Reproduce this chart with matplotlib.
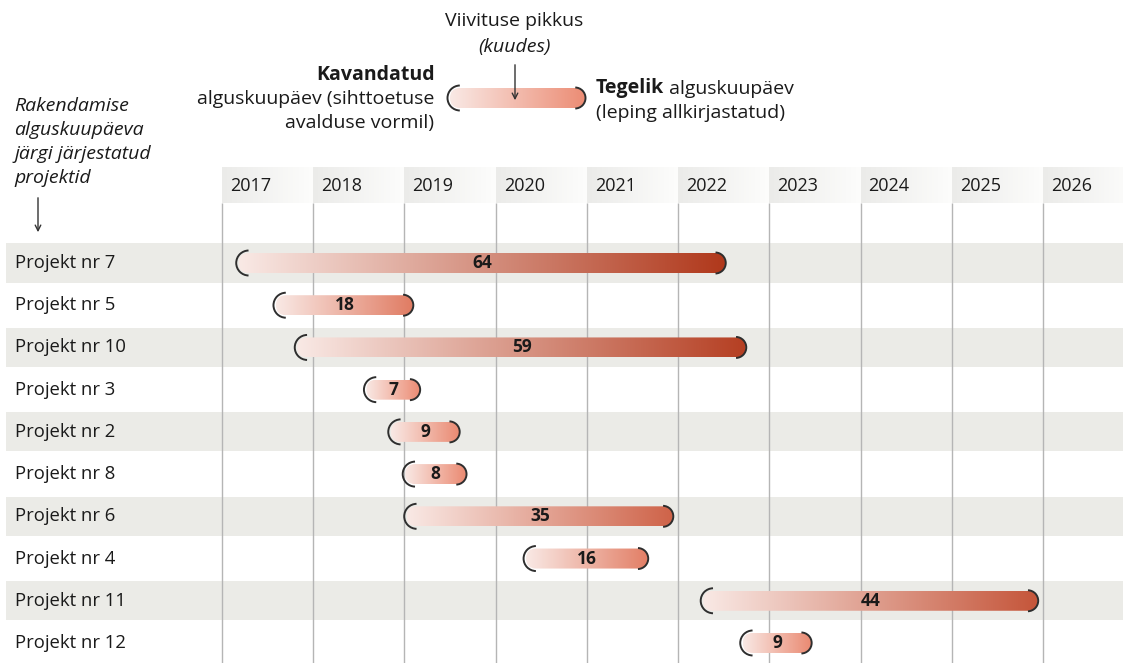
"""Projektide rakendamise viivitus: kavandatud vs tegelik alguskuupäev."""

import matplotlib

matplotlib.use("Agg")
import matplotlib.pyplot as plt
import numpy as np
from matplotlib.colors import to_rgb
from matplotlib.patches import Arc, FancyBboxPatch, Rectangle

# --- data -------------------------------------------------------------------
projects = ["Projekt nr 7", "Projekt nr 5", "Projekt nr 10", "Projekt nr 3",
            "Projekt nr 2", "Projekt nr 8", "Projekt nr 6", "Projekt nr 4",
            "Projekt nr 11", "Projekt nr 12"]
# planned start date, months after January 2017
planned_start = [2.2, 7.1, 9.9, 19.0, 22.2, 24.1, 24.3, 40.0, 63.3, 68.5]
# delay until the contract was signed (months)
delay_months = [64, 18, 59, 7, 9, 8, 35, 16, 44, 9]
years = list(range(2017, 2027))

# --- style ------------------------------------------------------------------
FONT = "Open Sans"
TEXT = "#1a1a1a"
BAND = "#ebebe7"
GRID = "#b5b5b5"
EDGE = "#2e2e2e"
C_START = "#f9e9e5"
C_SHORT = "#ec8c74"
C_LONG = "#b0381b"
HEAD_L, HEAD_R = "#ebebe9", "#fdfdfc"
FS = 13      # years
FS_NOTE = 14  # legend / explanation texts

plt.rcParams["font.family"] = [FONT, "DejaVu Sans"]

# layout: one axes over the whole figure, x in months, y in rows
W, H = 1123, 663
PX_MONTH = 7.602
PX_ROW = 42.22
X0_PX, Y0_PX = 222, 263
R_PX = 10  # half height of a bar


def px_x(px):
    return (px - X0_PX) / PX_MONTH


def px_y(py):
    return (py - Y0_PX) / PX_ROW


def mix(c1, c2, t):
    a, b = np.array(to_rgb(c1)), np.array(to_rgb(c2))
    return a + (b - a) * t


def gradient(ax, x0, x1, y0, y1, c0, c1, clip=None, z=2):
    t = np.linspace(0, 1, 256)
    img = np.array([[mix(c0, c1, v) for v in t]])
    im = ax.imshow(img, extent=(x0, x1, y1, y0), aspect="auto",
                   interpolation="bilinear", zorder=z)
    if clip is not None:
        im.set_clip_path(clip)
    return im


def pill(ax, x0, x1, yc, c_end, z=3):
    rx, ry = R_PX / PX_MONTH, R_PX / PX_ROW
    box = FancyBboxPatch((x0, yc - ry), x1 - x0, 2 * ry,
                         boxstyle=f"round,pad=0,rounding_size={rx * 0.999}",
                         mutation_aspect=ry / rx, fc="none", ec="none", zorder=z)
    ax.add_patch(box)
    gradient(ax, x0, x1, yc - ry, yc + ry, C_START, c_end, clip=box, z=z)
    gap = 2.5
    ax.add_patch(Arc((x0 + rx, yc), 2 * (R_PX + gap) / PX_MONTH, 2 * (R_PX + gap) / PX_ROW,
                     theta1=95, theta2=265, color=EDGE, lw=1.4, zorder=z + 1))
    ax.add_patch(Arc((x1 - rx, yc), 2 * (R_PX + 0.5) / PX_MONTH, 2 * (R_PX + 0.5) / PX_ROW,
                     theta1=-82, theta2=82, color=EDGE, lw=1.4, zorder=z + 1))


fig = plt.figure(figsize=(W / 100, H / 100), dpi=100)
ax = fig.add_axes([0, 0, 1, 1])

# alternating row bands
for i in range(0, len(projects), 2):
    ax.add_patch(Rectangle((px_x(6), i - 0.462), px_x(W) - px_x(6), 0.924,
                           fc=BAND, ec="none", zorder=0))

# year header + grid
for i, yr in enumerate(years):
    gradient(ax, 12 * i, 12 * (i + 1), px_y(167), px_y(203), HEAD_L, HEAD_R, z=1)
    ax.text(12 * i + 8 / PX_MONTH, px_y(186), str(yr), ha="left", va="center",
            fontsize=FS, color=TEXT, zorder=2)
ax.vlines([12 * i for i in range(len(years))], px_y(203), px_y(H),
          color=GRID, lw=1, zorder=1)

# bars
dmin, dmax = min(delay_months), max(delay_months)
for i, (name, s, d) in enumerate(zip(projects, planned_start, delay_months)):
    ax.text(px_x(15), i, name, ha="left", va="center", fontsize=13.3, color=TEXT)
    c_end = mix(C_SHORT, C_LONG, (d - dmin) / (dmax - dmin))
    pill(ax, s, s + d, i, c_end)
    ax.text(s + d / 2, i, str(d), ha="center", va="center", fontsize=12.5,
            fontweight="bold", color=TEXT, zorder=6)

# left explanation
for k, line in enumerate(["Rakendamise", "alguskuupäeva", "järgi järjestatud", "projektid"]):
    ax.text(px_x(14), px_y(106 + 24 * k), line, ha="left", va="center",
            fontsize=FS_NOTE, style="italic", color=TEXT)
ax.annotate("", xy=(px_x(38), px_y(235)), xytext=(px_x(38), px_y(195)),
            arrowprops=dict(arrowstyle="->", color="#333333", lw=1))

# legend
lx0, lx1, ly = px_x(450), px_x(585), px_y(98)
pill(ax, lx0, lx1, ly, C_SHORT)
ax.annotate("", xy=(px_x(515), px_y(103)), xytext=(px_x(515), px_y(62)),
            arrowprops=dict(arrowstyle="->", color="#333333", lw=1), zorder=8)
ax.text(px_x(514), px_y(21), "Viivituse pikkus", ha="center", va="center",
        fontsize=FS_NOTE, color=TEXT)
ax.text(px_x(514), px_y(47), "(kuudes)", ha="center", va="center",
        fontsize=FS_NOTE, style="italic", color=TEXT)
ax.text(px_x(435), px_y(75), "Kavandatud", ha="right", va="center",
        fontsize=FS_NOTE, fontweight="bold", color=TEXT)
ax.text(px_x(434), px_y(99), "alguskuupäev (sihttoetuse", ha="right", va="center",
        fontsize=FS_NOTE, color=TEXT)
ax.text(px_x(434), px_y(123), "avalduse vormil)", ha="right", va="center",
        fontsize=FS_NOTE, color=TEXT)
t_bold = ax.text(px_x(596), px_y(88), "Tegelik", ha="left", va="center",
                 fontsize=FS_NOTE, fontweight="bold", color=TEXT)
ax.annotate(" alguskuupäev", xy=(1, 0), xycoords=t_bold, ha="left", va="bottom",
            fontsize=FS_NOTE, color=TEXT)
ax.text(px_x(596), px_y(113), "(leping allkirjastatud)", ha="left", va="center",
        fontsize=FS_NOTE, color=TEXT)

ax.set_xlim(px_x(0), px_x(W))
ax.set_ylim(px_y(H), px_y(0))
ax.axis("off")
fig.savefig("out.png", dpi=100)
plt.close(fig)
